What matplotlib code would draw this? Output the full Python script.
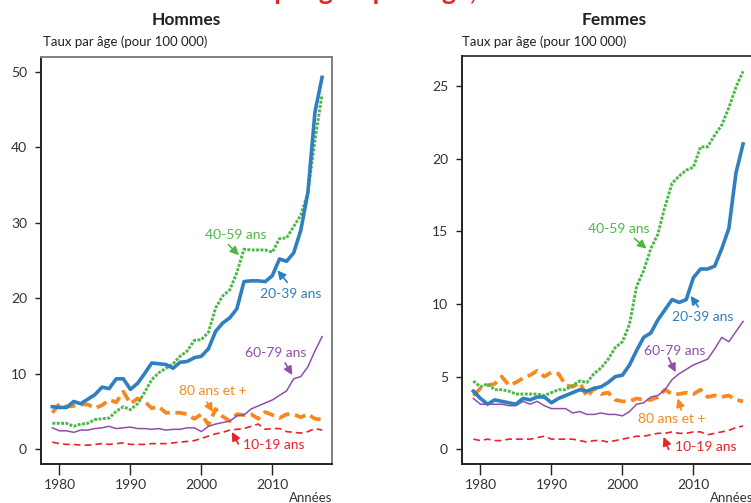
import numpy as np
import matplotlib
matplotlib.use("Agg")
import matplotlib.pyplot as plt

plt.rcParams["font.family"] = ["Lato", "DejaVu Sans"]

years = np.arange(1979, 2018)

# Hommes
h_20_39 = [5.6, 5.5, 5.5, 6.3, 6.0, 6.6, 7.2, 8.2, 8.0, 9.3, 9.3, 7.9, 8.7, 10.0, 11.4, 11.3, 11.2, 10.7,
           11.5, 11.6, 12.1, 12.3, 13.3, 15.6, 16.7, 17.4, 18.6, 22.2, 22.3, 22.3, 22.2, 23.0, 25.2, 24.9,
           26.0, 29.0, 34.0, 44.7, 49.3]
h_40_59 = [3.4, 3.4, 3.4, 3.0, 3.3, 3.4, 3.9, 4.0, 4.1, 5.0, 5.6, 5.2, 6.0, 7.5, 9.2, 10.1, 10.7, 11.3,
           12.3, 13.0, 14.4, 14.5, 15.5, 18.7, 20.3, 21.1, 23.4, 26.5, 26.4, 26.4, 26.4, 26.1, 27.9, 28.0,
           29.5, 31.0, 34.0, 41.0, 47.0]
h_60_79 = [2.8, 2.4, 2.4, 2.2, 2.5, 2.5, 2.7, 2.8, 3.0, 2.7, 2.8, 2.9, 2.7, 2.7, 2.6, 2.7, 2.5, 2.6,
           2.6, 2.8, 2.8, 2.3, 3.0, 3.3, 3.5, 3.7, 4.4, 4.5, 5.3, 5.7, 6.1, 6.5, 7.1, 7.7, 9.3, 9.6,
           10.9, 13.0, 14.9]
h_80p = [4.8, 6.0, 5.6, 5.7, 5.9, 5.9, 5.4, 5.8, 6.5, 6.2, 7.6, 6.0, 6.7, 6.3, 5.4, 5.6, 4.8, 4.8,
         4.8, 4.6, 4.0, 4.6, 3.2, 5.3, 4.3, 3.7, 4.6, 4.5, 4.6, 4.0, 4.9, 4.5, 4.1, 4.6, 4.6, 4.2,
         4.6, 4.0, 3.9]
h_10_19 = [0.9, 0.7, 0.6, 0.6, 0.5, 0.5, 0.6, 0.7, 0.6, 0.7, 0.8, 0.6, 0.6, 0.6, 0.7, 0.7, 0.7, 0.8,
           0.9, 1.0, 1.1, 1.4, 1.7, 2.0, 2.2, 2.5, 2.6, 2.7, 3.0, 3.3, 2.6, 2.7, 2.7, 2.3, 2.2, 2.1,
           2.3, 2.7, 2.5]

# Femmes
f_20_39 = [4.0, 3.5, 3.1, 3.4, 3.3, 3.2, 3.1, 3.5, 3.4, 3.6, 3.6, 3.2, 3.5, 3.7, 3.9, 4.1, 4.0, 4.2,
           4.3, 4.6, 5.0, 5.1, 5.8, 6.8, 7.7, 8.0, 8.9, 9.6, 10.3, 10.1, 10.3, 11.8, 12.4, 12.4, 12.6,
           13.8, 15.2, 19.0, 21.0]
f_40_59 = [4.7, 4.3, 4.5, 4.1, 4.1, 4.0, 3.8, 3.8, 3.8, 3.8, 3.7, 3.9, 4.1, 4.1, 4.4, 4.7, 4.6, 5.2,
           5.6, 6.2, 7.0, 7.4, 8.6, 11.2, 12.3, 13.8, 14.8, 16.7, 18.3, 18.8, 19.2, 19.4, 20.8, 20.8,
           21.6, 22.3, 23.5, 24.9, 26.0]
f_60_79 = [3.5, 3.1, 3.1, 3.1, 3.1, 3.0, 3.0, 3.3, 3.1, 3.3, 3.0, 2.8, 2.8, 2.8, 2.5, 2.6, 2.4, 2.4,
           2.5, 2.4, 2.4, 2.3, 2.6, 3.1, 3.2, 3.6, 3.7, 4.1, 4.8, 5.2, 5.5, 5.8, 6.0, 6.2, 6.9, 7.7,
           7.4, 8.1, 8.8]
f_80p = [3.7, 4.2, 4.4, 4.5, 5.0, 4.4, 4.6, 4.9, 5.1, 5.4, 5.0, 5.3, 5.2, 4.4, 4.3, 4.6, 3.6, 4.2,
         3.8, 3.9, 3.4, 3.3, 3.3, 3.5, 3.4, 3.4, 3.6, 4.1, 3.8, 3.8, 3.9, 3.8, 4.1, 3.6, 3.7, 3.6,
         3.7, 3.4, 3.3]
f_10_19 = [0.7, 0.6, 0.7, 0.6, 0.6, 0.7, 0.7, 0.7, 0.7, 0.8, 0.9, 0.7, 0.7, 0.7, 0.7, 0.6, 0.5, 0.6,
           0.6, 0.5, 0.6, 0.7, 0.8, 0.9, 0.9, 1.0, 1.1, 1.1, 1.2, 1.1, 1.1, 1.2, 1.2, 1.0, 1.1, 1.2,
           1.3, 1.5, 1.6]

GREEN = "#4cb848"
BLUE = "#2f7fc1"
PURPLE = "#8f4fa8"
ORANGE = "#f7881f"
RED = "#ec2027"
TXT = "#333333"

# (label, couleur, style, épaisseur)
styles = [
    ("10-19 ans", RED, (0, (4, 2.5)), 1.2),
    ("80 ans et +", ORANGE, (0, (3, 1.5)), 2.7),
    ("60-79 ans", PURPLE, "-", 1.1),
    ("40-59 ans", GREEN, (0, (1, 0.5)), 2.1),
    ("20-39 ans", BLUE, "-", 2.6),
]

fig = plt.figure(figsize=(7.51, 5.03), dpi=100)
ax1 = fig.add_axes([41 / 751, 1 - 464 / 503, 291 / 751, 407 / 503])
ax2 = fig.add_axes([462 / 751, 1 - 464 / 503, 291 / 751, 408 / 503])

men = [h_10_19, h_80p, h_60_79, h_40_59, h_20_39]
women = [f_10_19, f_80p, f_60_79, f_40_59, f_20_39]

for ax, series in [(ax1, men), (ax2, women)]:
    for (lab, col, ls, lw), vals in zip(styles, series):
        ax.plot(years, vals, color=col, linestyle=ls, linewidth=lw)
    ax.set_xlim(1977.4, 2018.4)
    ax.set_xticks([1980, 1990, 2000, 2010])
    ax.tick_params(axis="x", direction="out", length=8, width=1, colors="#222222",
                   labelsize=10, labelcolor=TXT, pad=3)
    ax.tick_params(axis="y", direction="out", length=4, width=1, colors="#222222",
                   labelsize=10, labelcolor=TXT, pad=6)
    for s in ["left", "bottom"]:
        ax.spines[s].set_linewidth(1.4)
        ax.spines[s].set_color("#222222")
    ax.text(1.0, -0.083, "Années", transform=ax.transAxes, ha="right", va="center",
            fontsize=9.5, color=TXT)

ax1.set_ylim(-2, 52)
ax1.set_yticks([0, 10, 20, 30, 40, 50])
for s in ["top", "right"]:
    ax1.spines[s].set_color("#7f7f7f")
    ax1.spines[s].set_linewidth(1.4)
ax2.set_ylim(-1.01, 27.05)
ax2.set_yticks([0, 5, 10, 15, 20, 25])
ax2.spines["top"].set_color("#222222")
ax2.spines["top"].set_linewidth(1.2)

arrow = dict(arrowstyle="-|>,head_length=0.5,head_width=0.25", lw=1.2, shrinkA=0, shrinkB=0)

# annotations : (texte, couleur, position texte, queue, pointe)
men_notes = [
    ("40-59 ans", GREEN, (2004.9, 28.4), (2003.8, 27.1), (2005.3, 25.7)),
    ("20-39 ans", BLUE, (2012.6, 20.6), (2012.1, 22.1), (2010.7, 23.7)),
    ("60-79 ans", PURPLE, (2010.4, 12.7), (2011.8, 11.4), (2012.8, 9.8)),
    ("80 ans et +", ORANGE, (2001.6, 7.7), (2000.8, 6.2), (2001.6, 4.9)),
    ("10-19 ans", RED, (2010.2, 0.5), (2005.2, 0.66), (2004.3, 2.25)),
]
women_notes = [
    ("40-59 ans", GREEN, (1999.5, 15.15), (2001.7, 14.5), (2003.4, 13.8)),
    ("20-39 ans", BLUE, (2011.3, 9.1), (2010.7, 9.8), (2009.6, 10.55)),
    ("60-79 ans", PURPLE, (2007.3, 6.77), (2006.5, 6.3), (2007.5, 5.3)),
    ("80 ans et +", ORANGE, (2006.9, 2.08), (2008.3, 2.7), (2007.8, 3.5)),
    ("10-19 ans", RED, (2011.7, 0.16), (2006.5, 0.0), (2005.8, 0.85)),
]
for ax, notes in [(ax1, men_notes), (ax2, women_notes)]:
    for txt, col, pos, tail, head in notes:
        ax.text(pos[0], pos[1], txt, color=col, fontsize=10, ha="center", va="center")
        ax.annotate("", xy=head, xytext=tail, arrowprops=dict(arrow, color=col))

fig.text(186 / 751, 1 - 20 / 503, "Hommes", ha="center", va="center", fontsize=12.5,
         fontweight="bold", color="#222222")
fig.text(614 / 751, 1 - 20 / 503, "Femmes", ha="center", va="center", fontsize=12.5,
         fontweight="bold", color="#222222")
fig.text(43 / 751, 1 - 42 / 503, "Taux par âge (pour 100 000)", ha="left", va="center",
         fontsize=9.5, color="#222222")
fig.text(462 / 751, 1 - 42 / 503, "Taux par âge (pour 100 000)", ha="left", va="center",
         fontsize=9.5, color="#222222")
# titre rouge, presque entièrement hors cadre (seuls les jambages dépassent)
fig.text(338 / 751, 1 + 0.5 / 503, "Taux de mortalité par groupe d'âge, 1979-2017", ha="center",
         va="baseline", fontsize=19, fontweight="bold", color=RED)

fig.savefig("out.png", dpi=100)
